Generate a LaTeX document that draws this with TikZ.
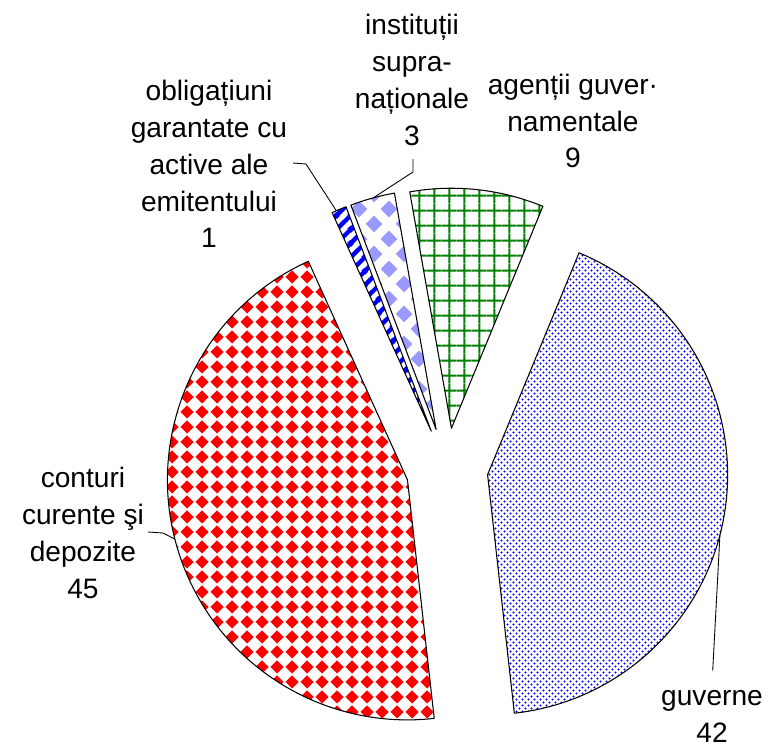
\documentclass[tikz,border=0pt]{standalone}
\usepackage{fontspec}
\setmainfont{Liberation Sans}
\usetikzlibrary{patterns}

\definecolor{checkred}{HTML}{FF0000}
\definecolor{lavender}{HTML}{9999FF}
\definecolor{stripeblue}{HTML}{0000FF}
\definecolor{gridgreen}{HTML}{008000}
\definecolor{dotblue}{HTML}{0000FF}

% one diamond of a pattern cell: centre x, centre y, half diagonal (pt)
\newcommand{\patdiamond}[3]{%
  \pgfpathmoveto{\pgfpoint{#1pt}{#2pt-#3pt}}%
  \pgfpathlineto{\pgfpoint{#1pt+#3pt}{#2pt}}%
  \pgfpathlineto{\pgfpoint{#1pt}{#2pt+#3pt}}%
  \pgfpathlineto{\pgfpoint{#1pt-#3pt}{#2pt}}%
  \pgfpathclose}

\pgfdeclarepatternformonly{redchecker}{\pgfpointorigin}{\pgfqpoint{8.54pt}{8.54pt}}{\pgfqpoint{8.54pt}{8.54pt}}{%
  \patdiamond{4.27}{4.27}{3.97}%
  \pgfusepath{fill}}

\pgfdeclarepatternformonly{bigdiamonds}{\pgfpointorigin}{\pgfqpoint{17.07pt}{17.07pt}}{\pgfqpoint{17.07pt}{17.07pt}}{%
  \patdiamond{8.54}{8.54}{4.7}%
  \patdiamond{0}{0}{4.7}\patdiamond{17.07}{0}{4.7}%
  \patdiamond{0}{17.07}{4.7}\patdiamond{17.07}{17.07}{4.7}%
  \pgfusepath{fill}}

\pgfdeclarepatternformonly{widestripes}{\pgfpointorigin}{\pgfqpoint{8pt}{8pt}}{\pgfqpoint{8pt}{8pt}}{%
  \pgfsetlinewidth{2.6pt}%
  \pgfpathmoveto{\pgfqpoint{-1pt}{-1pt}}\pgfpathlineto{\pgfqpoint{9pt}{9pt}}%
  \pgfpathmoveto{\pgfqpoint{-9pt}{-1pt}}\pgfpathlineto{\pgfqpoint{1pt}{9pt}}%
  \pgfpathmoveto{\pgfqpoint{-1pt}{-9pt}}\pgfpathlineto{\pgfqpoint{9pt}{1pt}}%
  \pgfusepath{stroke}}

\pgfdeclarepatternformonly{gridlines}{\pgfpointorigin}{\pgfqpoint{8.7pt}{8.7pt}}{\pgfqpoint{8.7pt}{8.7pt}}{%
  \pgfsetlinewidth{1.2pt}%
  \pgfpathmoveto{\pgfqpoint{4.35pt}{0pt}}\pgfpathlineto{\pgfqpoint{4.35pt}{8.7pt}}%
  \pgfpathmoveto{\pgfqpoint{0pt}{4.35pt}}\pgfpathlineto{\pgfqpoint{8.7pt}{4.35pt}}%
  \pgfusepath{stroke}}

\pgfdeclarepatternformonly{finedots}{\pgfpointorigin}{\pgfqpoint{3.41pt}{3.41pt}}{\pgfqpoint{3.41pt}{3.41pt}}{%
  \pgfpathcircle{\pgfqpoint{0.85pt}{0.85pt}}{0.7pt}%
  \pgfpathcircle{\pgfqpoint{2.56pt}{2.56pt}}{0.7pt}%
  \pgfusepath{fill}}

\begin{document}
\begin{tikzpicture}[x=0.02cm, y=0.02cm,
  slice/.style={draw=black, line width=0.6pt, line join=round},
  lbl/.style={align=center, inner sep=0pt, font=\fontsize{16}{21}\selectfont},
  leader/.style={draw=black, line width=0.5pt}]
\useasboundingbox (-447,-279) rectangle (330,469);

% slices, clockwise from the top
\draw[slice, pattern=gridlines, pattern color=gridgreen] (83.8:41) -- ++(67.6:240) arc[start angle=67.6, end angle=100, radius=240] -- cycle;
\draw[slice, pattern=finedots, pattern color=dotblue] (-8:41) -- ++(-83.6:240) arc[start angle=-83.6, end angle=67.6, radius=240] -- cycle;
\draw[slice, pattern=redchecker, pattern color=checkred] (195.4:41) -- ++(114.4:240) arc[start angle=114.4, end angle=276.4, radius=240] -- cycle;
\draw[slice, pattern=widestripes, pattern color=stripeblue] (112.6:41) -- ++(110.8:240) arc[start angle=110.8, end angle=114.4, radius=240] -- cycle;
\draw[slice, pattern=bigdiamonds, pattern color=lavender] (105.4:41) -- ++(100:240) arc[start angle=100, end angle=110.8, radius=240] -- cycle;

% labels
\node[lbl] (oblig) at (-238,305) {obligațiuni\\garantate cu\\active ale\\emitentului\\1};
\node[lbl] (inst) at (-35,389) {instituții\\supra-\\naționale\\3};
\node[lbl] (agentii) at (126,348) {agenții guver·\\namentale\\9};
\node[lbl] (conturi) at (-364,-64) {conturi\\curente şi\\depozite\\45};
\node[lbl] (guverne) at (265,-247) {guverne\\42};

% leader lines
\coordinate (oblig-lead) at (-154,306);
\coordinate (oblig-bend) at (-141,305);
\path (112.6:41) ++(113.3:240) coordinate (oblig-out);
\draw[leader] (oblig-lead) -- (oblig-bend) -- (oblig-out);

\coordinate (inst-lead) at (-34,310);
\coordinate (inst-bend) at (-34,297);
\path (105.4:41) ++(105.2:240) coordinate (inst-out);
\draw[leader] (inst-lead) -- (inst-bend) -- (inst-out);

\coordinate (conturi-lead) at (-299,-63);
\coordinate (conturi-bend) at (-284,-64);
\path (195.4:41) ++(194.3:240) coordinate (conturi-out);
\draw[leader] (conturi-lead) -- (conturi-bend) -- (conturi-out);

\coordinate (guverne-lead) at (265.7,-201.7);
\path (-8:41) ++(-14.5:240) coordinate (guverne-out);
\draw[leader] (guverne-lead) -- (guverne-out);
\end{tikzpicture}
\end{document}
